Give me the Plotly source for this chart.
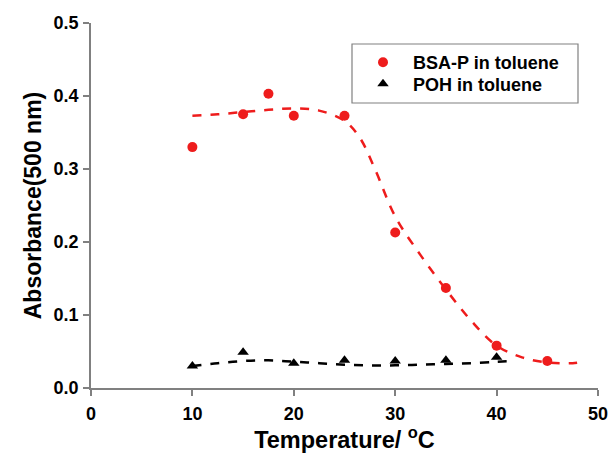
import plotly.graph_objects as go

# Measured data
temp_bsa = [10, 15, 17.5, 20, 25, 30, 35, 40, 45]
abs_bsa = [0.330, 0.375, 0.403, 0.373, 0.373, 0.213, 0.137, 0.058, 0.037]

temp_poh = [10, 15, 20, 25, 30, 35, 40]
abs_poh = [0.030, 0.049, 0.034, 0.038, 0.037, 0.038, 0.042]

# Fitted (dashed) curves
fit_bsa_x = [10, 12.5, 15, 17.5, 20, 22.5, 25, 26.5, 28, 30, 32.5, 35, 37.5, 40, 42.5, 45, 47.5, 48.5]
fit_bsa_y = [0.373, 0.375, 0.378, 0.381, 0.383, 0.380, 0.366, 0.343, 0.300, 0.235, 0.182, 0.135, 0.092, 0.058, 0.042, 0.035, 0.034, 0.036]

fit_poh_x = [10, 12.5, 15, 17.5, 20, 22.5, 25, 27.5, 30, 32.5, 35, 37.5, 40, 41.5]
fit_poh_y = [0.030, 0.034, 0.037, 0.038, 0.036, 0.034, 0.032, 0.031, 0.031, 0.032, 0.033, 0.034, 0.036, 0.037]

x_ticks = [0, 10, 20, 30, 40, 50]
y_ticks = [0.0, 0.1, 0.2, 0.3, 0.4, 0.5]

RED = "#ee1c1c"
FONT = "Arial, Liberation Sans, sans-serif"

fig = go.Figure()
fig.add_trace(go.Scatter(x=fit_bsa_x, y=fit_bsa_y, mode="lines", line=dict(color=RED, width=2.5, dash="dash", shape="spline"), showlegend=False, hoverinfo="skip"))
fig.add_trace(go.Scatter(x=fit_poh_x, y=fit_poh_y, mode="lines", line=dict(color="black", width=2.5, dash="dash", shape="spline"), showlegend=False, hoverinfo="skip"))
fig.add_trace(go.Scatter(x=temp_bsa, y=abs_bsa, mode="markers", name="BSA-P in toluene", legend="legend",
                         marker=dict(color=RED, size=10, symbol="circle")))
fig.add_trace(go.Scatter(x=temp_poh, y=abs_poh, mode="markers", name="POH in toluene", legend="legend2",
                         marker=dict(color="black", size=10, symbol="triangle-up")))

axis_common = dict(showgrid=False, zeroline=False, showline=True, linecolor="#808080", linewidth=1.5,
                   ticks="outside", ticklen=6, tickcolor="#808080", tickwidth=1.5,
                   tickfont=dict(family=FONT, size=18, color="black", weight="bold"), automargin=False)

fig.update_xaxes(range=[0, 50], tickvals=x_ticks, ticktext=[str(v) for v in x_ticks], ticklabelstandoff=3,
                 title=dict(text="Temperature/ <sup>o</sup>C", font=dict(family=FONT, size=23.5, color="black", weight="bold"), standoff=2),
                 **axis_common)
fig.update_yaxes(range=[0, 0.5], tickvals=y_ticks, ticktext=[f"{v:.1f}" for v in y_ticks], ticklabelstandoff=1,
                 title=dict(text="Absorbance(500 nm)", font=dict(family=FONT, size=23, color="black", weight="bold"), standoff=6),
                 **axis_common)

fig.add_shape(type="rect", xref="paper", yref="paper", x0=(352-91)/507, x1=(578-91)/507, y0=(388-103)/365, y1=(388-44)/365,
              line=dict(color="#808080", width=1.2), fillcolor="rgba(0,0,0,0)")

legend_common = dict(xanchor="left", yanchor="top", bgcolor="rgba(0,0,0,0)", borderwidth=0,
                     font=dict(family=FONT, size=18, color="black", weight="bold"), itemwidth=50)

fig.update_layout(
    width=611, height=453,
    margin=dict(l=91, r=13, t=23, b=65),
    plot_bgcolor="white", paper_bgcolor="white",
    font=dict(family=FONT, color="black"),
    legend=dict(x=(353-91)/507, y=(388-44)/365, **legend_common),
    legend2=dict(x=(353-91)/507, y=(388-65.5)/365, **legend_common),
)

fig.write_html("out.html", config={"displayModeBar": False},
               post_script="document.body.style.margin='0';document.body.style.padding='0';")
